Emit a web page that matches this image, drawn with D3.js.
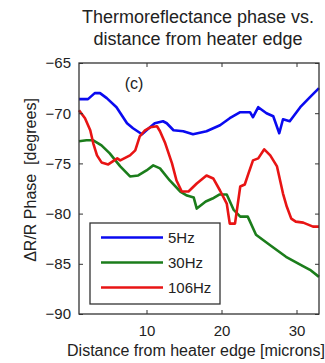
<!DOCTYPE html>
<html>
<head>
<meta charset="utf-8">
<script src="https://cdn.jsdelivr.net/npm/d3@7"></script>
<style>
  body { margin: 0; background: #fff; }
  text { font-family: "Liberation Sans", Arial, sans-serif; fill: #222; }
</style>
</head>
<body>
<svg id="chart"></svg>
<script>
// values
const dist5Hz = [1.0, 2.2, 3.1, 3.8, 4.7, 6.0, 7.4, 8.2, 9.4, 10.0, 11.1, 12.2, 12.7, 13.6, 14.9, 16.2, 18.0, 19.8, 21.1, 22.5, 23.8, 24.2, 24.9, 26.0, 26.9, 27.7, 28.2, 29.1, 30.5, 31.8, 33.0];
const phase5Hz = [-68.6, -68.6, -68.0, -68.0, -68.5, -69.4, -71.0, -71.5, -72.1, -71.7, -71.0, -70.8, -71.0, -71.7, -71.8, -72.1, -71.8, -71.2, -70.5, -69.9, -69.9, -70.4, -69.4, -70.0, -70.3, -72.0, -70.6, -70.8, -69.4, -68.4, -67.5];

const dist30Hz = [1.0, 2.0, 2.9, 4.0, 5.1, 6.5, 7.8, 8.9, 10.0, 10.9, 11.8, 13.1, 14.5, 15.4, 16.3, 16.7, 17.9, 18.8, 19.7, 20.7, 21.6, 22.5, 23.5, 24.6, 26.4, 28.6, 30.8, 31.8, 33.0];
const phase30Hz = [-72.8, -72.7, -72.7, -73.2, -74.0, -75.3, -76.3, -76.2, -75.7, -75.2, -75.5, -76.7, -77.8, -78.2, -78.4, -79.5, -78.8, -78.5, -78.1, -78.1, -79.6, -80.3, -80.3, -82.1, -83.1, -84.3, -85.2, -85.6, -86.3];

const dist106Hz = [1.0, 1.8, 2.5, 2.9, 3.4, 4.0, 4.9, 6.1, 6.5, 7.8, 8.5, 9.1, 9.8, 10.5, 11.4, 11.8, 12.5, 13.4, 14.0, 14.7, 15.6, 16.7, 18.0, 18.9, 19.8, 20.7, 21.1, 21.8, 22.5, 23.1, 23.6, 24.2, 24.9, 25.7, 26.5, 27.4, 28.2, 28.7, 29.3, 29.9, 30.9, 32.2, 33.0];
const phase106Hz = [-69.7, -70.5, -71.7, -73.0, -74.2, -74.9, -75.1, -74.5, -74.7, -74.2, -73.7, -72.3, -71.7, -71.4, -71.3, -71.8, -73.0, -75.0, -76.7, -77.8, -77.8, -77.0, -76.2, -76.5, -77.7, -79.0, -81.0, -81.0, -77.3, -77.1, -76.0, -74.7, -74.5, -73.6, -74.2, -75.3, -78.0, -79.3, -80.5, -80.8, -80.9, -81.3, -81.3];

const seriesNames = ["5Hz", "30Hz", "106Hz"];
const seriesColors = ["#0a0af0", "#1b7d1b", "#e81414"];
const xTicks = [10, 20, 30];
const yTicks = [-90, -85, -80, -75, -70, -65];

const width = 325, height = 363;
const margin = {top: 63, right: 6, bottom: 49, left: 79};
const innerW = width - margin.left - margin.right;
const innerH = height - margin.top - margin.bottom;

const series = [
  {name: seriesNames[0], xs: dist5Hz, ys: phase5Hz},
  {name: seriesNames[1], xs: dist30Hz, ys: phase30Hz},
  {name: seriesNames[2], xs: dist106Hz, ys: phase106Hz}
];

const svg = d3.select("#chart").attr("width", width).attr("height", height);

const x = d3.scaleLinear().domain([1, 33]).range([0, innerW]);
const y = d3.scaleLinear().domain([-90, -65]).range([innerH, 0]);

const g = svg.append("g").attr("transform", "translate(" + margin.left + "," + margin.top + ")");

// title (two lines)
const title = svg.append("text")
  .attr("x", 198)
  .attr("text-anchor", "middle")
  .style("font-size", "18px");
title.append("tspan").attr("x", 198).attr("y", 23).text("Thermoreflectance phase vs.");
title.append("tspan").attr("x", 198).attr("y", 45).text("distance from heater edge");

// data lines
const line = d3.line()
  .x(d => x(d[0]))
  .y(d => y(d[1]));

g.append("g").attr("class", "lines")
  .selectAll("path")
  .data(series)
  .enter()
  .append("path")
  .attr("d", s => line(s.xs.map((v, i) => [v, s.ys[i]])))
  .attr("fill", "none")
  .attr("stroke", (s, i) => seriesColors[i])
  .attr("stroke-width", 2.6)
  .attr("stroke-linejoin", "round");

// axes, MATLAB style: ticks pointing in, mirrored on top and right
const tickLen = 4;
const axisBottom = g.append("g").attr("transform", "translate(0," + innerH + ")")
  .call(d3.axisBottom(x).tickValues(xTicks).tickSize(-tickLen).tickPadding(8).tickFormat(d3.format("d")));
const axisTop = g.append("g")
  .call(d3.axisTop(x).tickValues(xTicks).tickSize(-tickLen).tickFormat(""));
const axisLeft = g.append("g")
  .call(d3.axisLeft(y).tickValues(yTicks).tickSize(-tickLen).tickPadding(8).tickFormat(d3.format("d")));
const axisRight = g.append("g").attr("transform", "translate(" + innerW + ",0)")
  .call(d3.axisRight(y).tickValues(yTicks).tickSize(-tickLen).tickFormat(""));

[axisBottom, axisTop, axisLeft, axisRight].forEach(a => {
  a.select(".domain").remove();
  a.selectAll("line").attr("stroke", "#333").attr("stroke-width", 1);
  a.selectAll("text")
    .style("font-family", "\"Liberation Sans\", Arial, sans-serif")
    .style("font-size", "15px")
    .attr("fill", "#222");
});
axisBottom.selectAll("text").attr("dy", "0.95em");

// frame
g.append("rect")
  .attr("width", innerW)
  .attr("height", innerH)
  .attr("fill", "none")
  .attr("stroke", "#333")
  .attr("stroke-width", 1.3);

// panel tag
svg.append("text")
  .attr("x", 134)
  .attr("y", 89)
  .attr("text-anchor", "middle")
  .style("font-size", "16px")
  .text("(c)");

// axis labels
svg.append("text")
  .attr("x", 196)
  .attr("y", 356)
  .attr("text-anchor", "middle")
  .style("font-size", "16px")
  .text("Distance from heater edge [microns]");

svg.append("text")
  .attr("transform", "translate(36,180) rotate(-90)")
  .attr("text-anchor", "middle")
  .style("font-size", "16px")
  .style("white-space", "pre")
  .text("\u0394R/R Phase  [degrees]");

// legend
const legend = svg.append("g").attr("class", "legend");
legend.append("rect")
  .attr("x", 90)
  .attr("y", 223)
  .attr("width", 130)
  .attr("height", 81)
  .attr("fill", "#fff")
  .attr("stroke", "#333")
  .attr("stroke-width", 1.3);

const legendY = d3.scalePoint().domain(seriesNames).range([237.5, 287.5]);

const item = legend.selectAll("g.item")
  .data(seriesNames)
  .enter()
  .append("g")
  .attr("class", "item");

item.append("line")
  .attr("x1", 101)
  .attr("x2", 163)
  .attr("y1", d => legendY(d))
  .attr("y2", d => legendY(d))
  .attr("stroke", (d, i) => seriesColors[i])
  .attr("stroke-width", 2.6);

item.append("text")
  .attr("x", 168)
  .attr("y", d => legendY(d) + 5.5)
  .style("font-size", "15px")
  .text(d => d);
</script>
</body>
</html>
